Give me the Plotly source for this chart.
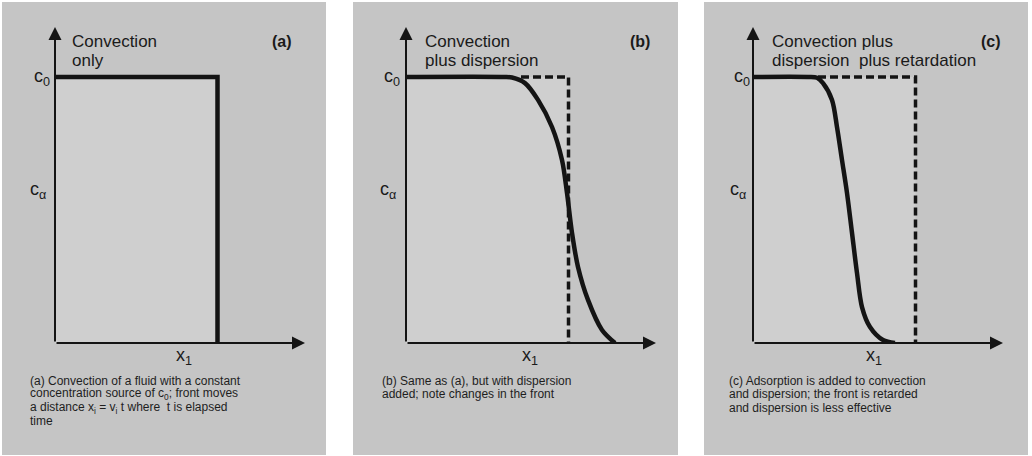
import plotly.graph_objects as go

W, H = 1032, 456

# ---- data (dimensionless: x in arbitrary distance units, c / c0) ----
C0 = 1.0
FRONT_X = 6.5           # x1 = v1 t, position of the sharp convective front
X_MAX = 10.0
Y_MAX = 1.188

# (a) convection only: step front
a_x = [0.0, FRONT_X, FRONT_X]
a_y = [C0, C0, 0.0]

# (b) convection plus dispersion
b_x = [0.0, 3.9, 4.24, 4.76, 5.28, 5.84, 6.24, 6.44, 6.64, 6.88, 7.28, 7.84, 8.36]
b_y = [1.0, 1.0, 0.998, 0.977, 0.914, 0.812, 0.688, 0.564, 0.414, 0.286, 0.162, 0.049, 0.0]

# (c) convection plus dispersion plus retardation
c_x = [0.0, 2.2, 2.56, 2.80, 3.16, 3.36, 3.56, 3.76, 3.96, 4.16, 4.36, 4.68, 5.20, 5.68]
c_y = [1.0, 1.0, 0.997, 0.977, 0.914, 0.812, 0.688, 0.564, 0.414, 0.263, 0.135, 0.06, 0.011, 0.0]

# dashed reference front (convection only) for (b) and (c)
b_dash_start = 4.6
c_dash_start = 2.6

panel_labels = ["(a)", "(b)", "(c)"]
titles = [["Convection", "only"],
          ["Convection", "plus dispersion"],
          ["Convection plus", "dispersion  plus retardation"]]
captions = [
    ["(a) Convection of a fluid with a constant",
     "concentration source of c<sub>0</sub>; front moves",
     "a distance x<sub>i</sub> = v<sub>i</sub> t where  t is elapsed",
     "time"],
    ["(b) Same as (a), but with dispersion",
     "added; note changes in the front"],
    ["(c) Adsorption is added to convection",
     "and dispersion; the front is retarded",
     "and dispersion is less effective"],
]
y_tick_labels = ["c<sub>0</sub>", "c<sub>α</sub>"]
x_label = "x<sub>1</sub>"

# ---- layout helpers (pixel -> paper) ----
def px(x):
    return x / W

def py(y):
    return 1 - y / H

origins = [55, 406, 753]          # pixel x of each y axis
panel_bg = [(2, 326), (353, 678), (704, 1028)]
title_x = [70, 423, 770]
label_x = [282, 640, 991]
c0_x = [32, 382, 732]
ca_x = [28, 378, 728]
x1_x = [174, 520, 864]
cap_x = [28, 380, 727]

BG = "#c5c5c5"
INNER = "#cfcfcf"
INK = "#141414"
font_fam = "Liberation Sans, Arial, sans-serif"

fig = go.Figure()

curves = [(a_x, a_y), (b_x, b_y), (c_x, c_y)]
dash_starts = [None, b_dash_start, c_dash_start]

for i in range(3):
    xa = "x" if i == 0 else f"x{i+1}"
    ya = "y" if i == 0 else f"y{i+1}"
    # light tint under the convective front
    fig.add_trace(go.Scatter(x=[0, FRONT_X, FRONT_X], y=[C0, C0, 0], mode="lines",
                             line=dict(width=0), fill="tozeroy", fillcolor=INNER,
                             xaxis=xa, yaxis=ya, hoverinfo="skip", showlegend=False))
    if dash_starts[i] is not None:
        fig.add_trace(go.Scatter(x=[dash_starts[i], FRONT_X, FRONT_X], y=[C0, C0, 0],
                                 mode="lines",
                                 line=dict(color=INK, width=3.5, dash="8px,4px"),
                                 xaxis=xa, yaxis=ya, hoverinfo="skip", showlegend=False))
    cx, cy = curves[i]
    fig.add_trace(go.Scatter(x=cx, y=cy, mode="lines",
                             line=dict(color=INK, width=4.5,
                                       shape="linear" if i == 0 else "spline", smoothing=0.9),
                             xaxis=xa, yaxis=ya, hoverinfo="skip", showlegend=False))

axis_common = dict(visible=False, fixedrange=True)
layout = dict(width=W, height=H, margin=dict(l=0, r=0, t=0, b=0),
              paper_bgcolor="white", plot_bgcolor="rgba(0,0,0,0)", showlegend=False)
for i in range(3):
    xk = "xaxis" if i == 0 else f"xaxis{i+1}"
    yk = "yaxis" if i == 0 else f"yaxis{i+1}"
    o = origins[i]
    layout[xk] = dict(domain=[px(o), px(o + 250)], range=[0, X_MAX],
                      anchor="y" if i == 0 else f"y{i+1}", **axis_common)
    layout[yk] = dict(domain=[py(343), py(27)], range=[0, Y_MAX],
                      anchor="x" if i == 0 else f"x{i+1}", **axis_common)
fig.update_layout(**layout)

shapes = []
for (l, r) in panel_bg:
    shapes.append(dict(type="rect", xref="paper", yref="paper", x0=px(l), x1=px(r),
                       y0=py(455), y1=py(2), fillcolor=BG, line=dict(width=0), layer="below"))
fig.update_layout(shapes=shapes)

ann = []
for i in range(3):
    xr = "x" if i == 0 else f"x{i+1}"
    yr = "y" if i == 0 else f"y{i+1}"
    # axes with arrowheads
    ann.append(dict(x=X_MAX, y=0, ax=0, ay=0, xref=xr, yref=yr, axref=xr, ayref=yr,
                    showarrow=True, arrowhead=2, arrowsize=1.3, arrowwidth=2, arrowcolor=INK, text=""))
    ann.append(dict(x=0, y=Y_MAX, ax=0, ay=0, xref=xr, yref=yr, axref=xr, ayref=yr,
                    showarrow=True, arrowhead=2, arrowsize=1.3, arrowwidth=2, arrowcolor=INK, text=""))
    # titles
    for j, line in enumerate(titles[i]):
        ann.append(dict(x=px(title_x[i]), y=py(42 + 18.5 * j), xref="paper", yref="paper",
                        text=line, showarrow=False, xanchor="left", yanchor="middle",
                        font=dict(family=font_fam, size=17, color="#1a1a1a")))
    ann.append(dict(x=px(label_x[i]), y=py(42), xref="paper", yref="paper",
                    text="<b>" + panel_labels[i] + "</b>", showarrow=False,
                    xanchor="center", yanchor="middle",
                    font=dict(family=font_fam, size=16, color="#1a1a1a")))
    ann.append(dict(x=px(c0_x[i]), y=py(77), xref="paper", yref="paper",
                    text=y_tick_labels[0], showarrow=False, xanchor="left", yanchor="middle",
                    font=dict(family=font_fam, size=18, color="#1a1a1a")))
    ann.append(dict(x=px(ca_x[i]), y=py(190), xref="paper", yref="paper",
                    text=y_tick_labels[1], showarrow=False, xanchor="left", yanchor="middle",
                    font=dict(family=font_fam, size=18, color="#1a1a1a")))
    ann.append(dict(x=px(x1_x[i]), y=py(356), xref="paper", yref="paper",
                    text=x_label, showarrow=False, xanchor="left", yanchor="middle",
                    font=dict(family=font_fam, size=18, color="#1a1a1a")))
    for j, line in enumerate(captions[i]):
        ann.append(dict(x=px(cap_x[i]), y=py(381 + 13.4 * j), xref="paper", yref="paper",
                        text=line, showarrow=False, xanchor="left", yanchor="middle",
                        font=dict(family=font_fam, size=12, color="#1e1e1e")))
fig.update_layout(annotations=ann)

fig.write_html("out.html", config={"displayModeBar": False},
               post_script="document.body.style.margin='0';document.body.style.overflow='hidden';")
